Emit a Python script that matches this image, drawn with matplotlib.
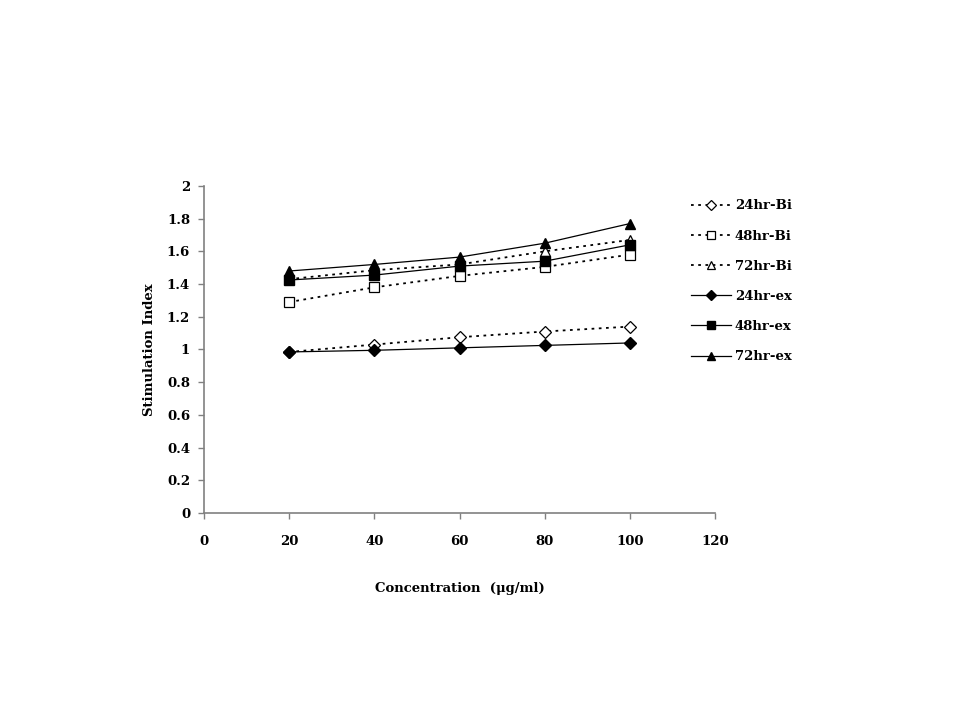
import matplotlib.pyplot as plt

# data
conc = [20, 40, 60, 80, 100]
bi_24 = [0.985, 1.03, 1.075, 1.11, 1.14]
bi_48 = [1.29, 1.38, 1.45, 1.505, 1.58]
bi_72 = [1.43, 1.485, 1.52, 1.60, 1.67]
ex_24 = [0.985, 0.995, 1.01, 1.025, 1.04]
ex_48 = [1.425, 1.455, 1.51, 1.54, 1.64]
ex_72 = [1.48, 1.52, 1.565, 1.65, 1.77]

x_ticks = [0, 20, 40, 60, 80, 100, 120]
y_ticks = [0, 0.2, 0.4, 0.6, 0.8, 1, 1.2, 1.4, 1.6, 1.8, 2]
y_tick_labels = ['0', '0.2', '0.4', '0.6', '0.8', '1', '1.2', '1.4', '1.6', '1.8', '2']

plt.rcParams['font.family'] = 'DejaVu Serif'
font_size = 9.5

fig = plt.figure(figsize=(9.6, 7.2), dpi=100)
ax = fig.add_axes([0.2125, 0.2875, 0.5323, 0.4542])

dot = (0, (1.5, 2.5))
ax.plot(conc, bi_24, linestyle=dot, color='black', linewidth=1.3, marker='D', markersize=6,
        markerfacecolor='white', markeredgecolor='black', markeredgewidth=0.9, label='24hr-Bi')
ax.plot(conc, bi_48, linestyle=dot, color='black', linewidth=1.3, marker='s', markersize=7.5,
        markerfacecolor='white', markeredgecolor='black', markeredgewidth=0.9, label='48hr-Bi')
ax.plot(conc, bi_72, linestyle=dot, color='black', linewidth=1.3, marker='^', markersize=7.5,
        markerfacecolor='white', markeredgecolor='black', markeredgewidth=0.9, label='72hr-Bi')
ax.plot(conc, ex_24, linestyle='-', color='black', linewidth=0.9, marker='D', markersize=6,
        markerfacecolor='black', markeredgecolor='black', label='24hr-ex')
ax.plot(conc, ex_48, linestyle='-', color='black', linewidth=0.9, marker='s', markersize=7.5,
        markerfacecolor='black', markeredgecolor='black', label='48hr-ex')
ax.plot(conc, ex_72, linestyle='-', color='black', linewidth=0.9, marker='^', markersize=7.5,
        markerfacecolor='black', markeredgecolor='black', label='72hr-ex')

ax.set_xlim(0, 120)
ax.set_ylim(0, 2)
ax.set_xticks(x_ticks)
ax.set_yticks(y_ticks)
ax.set_yticklabels(y_tick_labels)
ax.tick_params(axis='both', labelsize=font_size, colors='#808080', length=4, width=1)
for lbl in ax.get_xticklabels() + ax.get_yticklabels():
    lbl.set_color('black')
    lbl.set_fontweight('bold')
ax.tick_params(axis='x', pad=12)
ax.tick_params(axis='y', pad=6)

for side in ['top', 'right']:
    ax.spines[side].set_visible(False)
for side in ['left', 'bottom']:
    ax.spines[side].set_color('#808080')
    ax.spines[side].set_linewidth(1.2)

ax.set_xlabel('Concentration  (\u03bcg/ml)', fontsize=font_size, fontweight='bold', labelpad=24)
ax.set_ylabel('Stimulation Index', fontsize=font_size, fontweight='bold', labelpad=8)

ax.legend(loc='upper left', bbox_to_anchor=(0.93, 0.995), frameon=False,
          handlelength=3.0, handletextpad=0.3, labelspacing=1.3, markerscale=0.8,
          prop={'weight': 'bold', 'size': font_size})

fig.savefig('out.png', dpi=100)
